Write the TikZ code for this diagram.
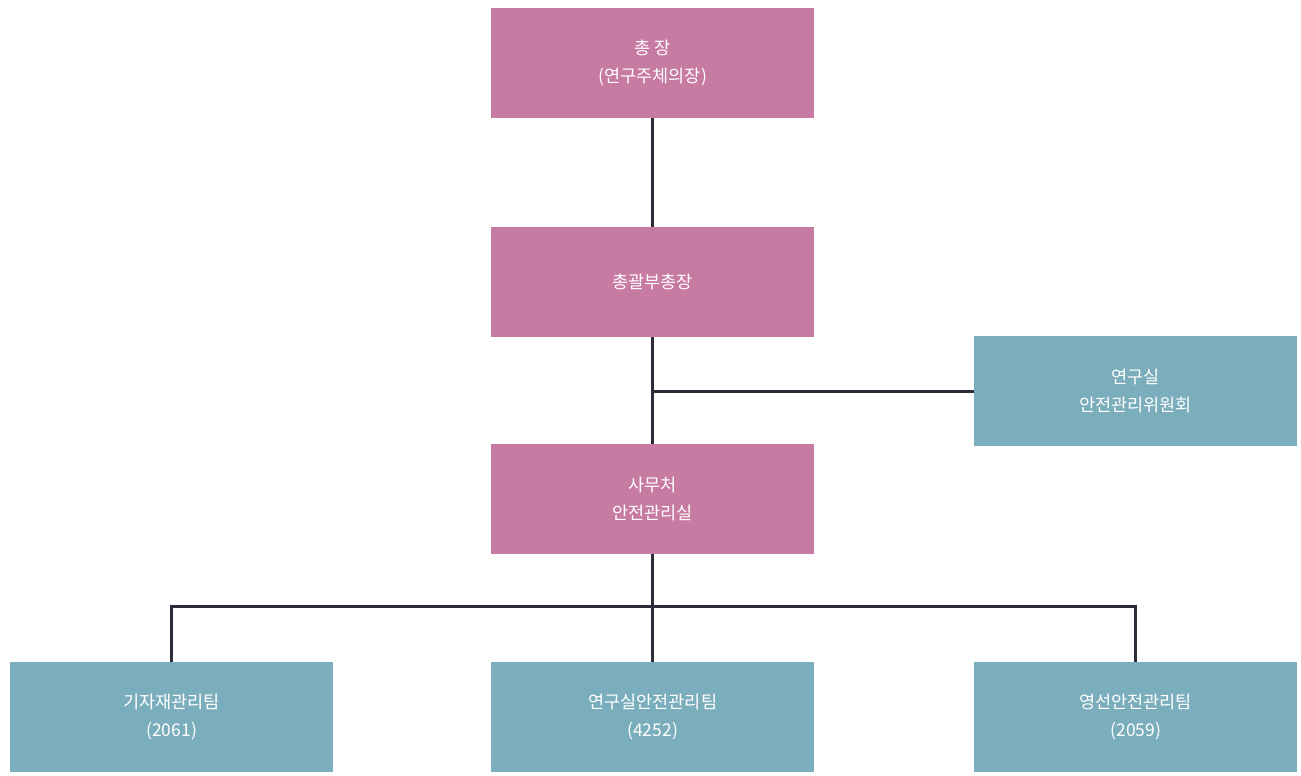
\documentclass[tikz,border=0pt]{standalone}
\usepackage{fontspec}
\newfontfamily\kr{Noto Sans CJK KR}
\definecolor{pinkbox}{HTML}{C77AA2}
\definecolor{tealbox}{HTML}{7BAEBC}
\definecolor{linecol}{HTML}{2B2B3A}
\begin{document}
\begin{tikzpicture}[x=1pt,y=-1pt,
  boxbase/.style={minimum width=323pt,minimum height=110pt,inner sep=0pt,
    font=\kr\fontsize{17.5}{28}\selectfont,text=white,align=center,anchor=north west},
  pinkb/.style={boxbase,fill=pinkbox},
  tealb/.style={boxbase,fill=tealbox},
  conn/.style={draw=linecol,line width=2.6pt}]
\useasboundingbox (0,0) rectangle (1301,776);
\fill[white] (0,0) rectangle (1301,776);
\node[pinkb] (pres) at (491,8) {총 장\\(연구주체의장)};
\node[pinkb] (vp) at (491,227) {총괄부총장};
\node[tealb] (comm) at (974,336) {연구실\\안전관리위원회};
\node[pinkb] (office) at (491,444) {사무처\\안전관리실};
\node[tealb] (t1) at (10,662) {기자재관리팀\\(2061)};
\node[tealb] (t2) at (491,662) {연구실안전관리팀\\(4252)};
\node[tealb] (t3) at (974,662) {영선안전관리팀\\(2059)};
\coordinate (j1) at (vp.south |- comm.west);
\coordinate (bus) at ([yshift=-52pt]office.south);
\draw[conn] (pres.south) -- (vp.north);
\draw[conn] (vp.south) -- (office.north);
\draw[conn] (j1) -- (comm.west);
\draw[conn] (office.south) -- (t2.north);
\draw[conn] (t1.north) |- (bus) -| (t3.north);
\end{tikzpicture}
\end{document}
